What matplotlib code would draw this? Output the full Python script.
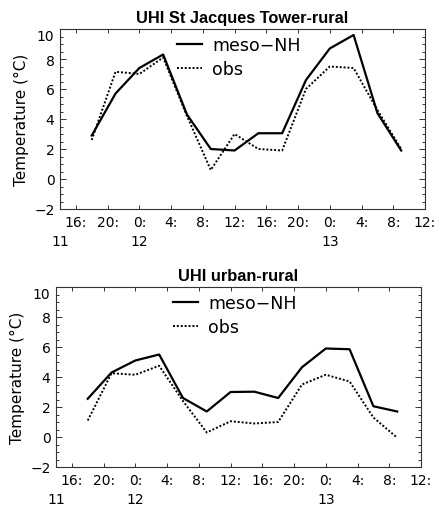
"""
Urban heat island time series: meso-NH model against observations
for two station pairs, 11-13 of the month.
"""

import numpy as np
import matplotlib
matplotlib.use('Agg')
from matplotlib import pyplot as plt
from matplotlib.ticker import MultipleLocator, FixedLocator

# hours counted from 0:00 on day 11
hours = [18, 21, 24, 27, 30, 33, 36, 39, 42, 45, 48, 51, 54, 57]

# UHI St Jacques Tower - rural
tower_meso = [2.9, 5.7, 7.4, 8.3, 4.3, 2.0, 1.9, 3.05, 3.05, 6.6, 8.7, 9.6, 4.4, 1.9]
tower_obs = [2.6, 7.15, 7.0, 8.1, 4.2, 0.6, 3.0, 2.0, 1.9, 6.0, 7.5, 7.4, 4.6, 2.0]

# UHI urban - rural
urban_meso = [2.55, 4.3, 5.1, 5.5, 2.6, 1.7, 3.0, 3.02, 2.6, 4.65, 5.9, 5.85, 2.05, 1.7]
urban_obs = [1.1, 4.25, 4.15, 4.75, 2.4, 0.3, 1.05, 0.9, 1.0, 3.5, 4.15, 3.7, 1.3, -0.05]

hour_ticks = [16, 20, 24, 28, 32, 36, 40, 44, 48, 52, 56, 60]
hour_labels = ['{}:'.format(h % 24) for h in hour_ticks]
day_pos = [14, 24, 48]
day_labels = ['11', '12', '13']

plt.rcParams['font.family'] = ['DejaVu Sans']


def style_axis(ax, title):
    ax.set_xlim(14, 60)
    ax.set_ylim(-2, 10)
    ax.xaxis.set_major_locator(FixedLocator(hour_ticks))
    ax.set_xticklabels(hour_labels)
    ax.yaxis.set_major_locator(MultipleLocator(2))
    ax.yaxis.set_minor_locator(MultipleLocator(0.5))
    ax.tick_params(which='both', direction='in', top=True, right=True,
                   width=0.7, color='#333333', labelsize=10)
    ax.tick_params(axis='x', which='major', length=3, pad=4)
    ax.tick_params(axis='y', which='major', length=4, pad=4)
    ax.tick_params(axis='y', which='minor', length=2)
    for sp in ax.spines.values():
        sp.set_linewidth(0.8)
        sp.set_color('#333333')
    for lab in ax.get_yticklabels():
        if lab.get_text() == '10':
            lab.set_va('top')
    for x, lab in zip(day_pos, day_labels):
        ax.annotate(lab, xy=(x, 0), xycoords=('data', 'axes fraction'),
                    xytext=(0, -23), textcoords='offset points',
                    ha='center', va='center', fontsize=10)
    ax.set_ylabel('Temperature (°C)', fontsize=11, labelpad=4)
    ax.set_title(title, fontsize=11.8, fontweight='bold',
                 family='Liberation Sans', pad=5)


fig = plt.figure(figsize=(4.35, 5.10), dpi=100)
ax1 = fig.add_axes([60 / 435, 1 - 210 / 510, 365 / 435, 180 / 510])
ax2 = fig.add_axes([56 / 435, 1 - 468 / 510, 365 / 435, 180 / 510])

panels = [(ax1, tower_meso, tower_obs, 'UHI St Jacques Tower-rural', 0.31),
          (ax2, urban_meso, urban_obs, 'UHI urban-rural', 0.31)]

for ax, meso, obs, title, lx in panels:
    ax.plot(hours, meso, color='k', lw=1.6, ls='-', label='meso\u2212NH')
    ax.plot(hours, obs, color='k', lw=1.4, ls=(0, (1, 1)), label='obs')
    style_axis(ax, title)
    ax.legend(loc='upper left', bbox_to_anchor=(lx, 0.98), frameon=False,
              fontsize=12.5, handlelength=1.45, handletextpad=0.6,
              labelspacing=0.35, borderpad=0.2, borderaxespad=0)

fig.savefig('out.png', dpi=100)
